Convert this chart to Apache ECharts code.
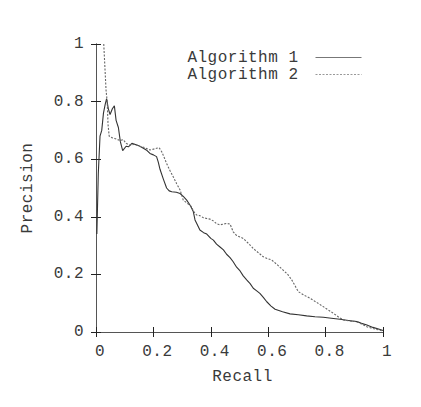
<!DOCTYPE html>
<html>
<head>
<meta charset="utf-8">
<script src="https://cdn.jsdelivr.net/npm/echarts@6/dist/echarts.min.js"></script>
<style>html,body{margin:0;padding:0;background:#fff}#c{width:421px;height:407px}#c svg text{letter-spacing:0.5px}</style>
</head>
<body>
<div id="c"></div>
<script>
var seriesNames = ['Algorithm 1', 'Algorithm 2'];
var xTicks = [0, 0.2, 0.4, 0.6, 0.8, 1];
var yTicks = [0, 0.2, 0.4, 0.6, 0.8, 1];

var algo1Recall = [0.003,0.008,0.014,0.02,0.026,0.032,0.037,0.043,0.049,0.057,0.064,0.07,0.078,0.085,0.093,0.105,0.113,0.125,0.142,0.153,0.165,0.178,0.188,0.2,0.211,0.217,0.223,0.235,0.246,0.255,0.264,0.28,0.293,0.305,0.316,0.328,0.339,0.345,0.351,0.362,0.375,0.386,0.4,0.409,0.42,0.432,0.444,0.455,0.467,0.478,0.49,0.502,0.513,0.525,0.537,0.548,0.56,0.571,0.583,0.595,0.61,0.624,0.65,0.676,0.705,0.734,0.763,0.792,0.82,0.85,0.88,0.909,0.925,0.944,0.965,0.99,1.0];
var algo1Precision = [0.34,0.55,0.68,0.70,0.76,0.79,0.81,0.775,0.755,0.775,0.785,0.735,0.71,0.66,0.63,0.645,0.643,0.655,0.649,0.645,0.638,0.63,0.62,0.615,0.609,0.59,0.565,0.53,0.5,0.49,0.487,0.485,0.481,0.47,0.458,0.44,0.418,0.389,0.377,0.354,0.345,0.34,0.325,0.319,0.305,0.295,0.285,0.27,0.258,0.244,0.225,0.212,0.195,0.181,0.168,0.152,0.143,0.134,0.12,0.105,0.09,0.079,0.07,0.063,0.06,0.056,0.053,0.051,0.048,0.044,0.04,0.036,0.03,0.024,0.016,0.009,0.005];

var algo2Recall = [0.027,0.031,0.035,0.039,0.042,0.046,0.055,0.065,0.075,0.085,0.095,0.105,0.118,0.135,0.153,0.17,0.188,0.2,0.211,0.22,0.229,0.238,0.246,0.258,0.269,0.281,0.293,0.304,0.318,0.333,0.339,0.351,0.362,0.374,0.386,0.397,0.41,0.42,0.432,0.445,0.455,0.467,0.478,0.49,0.513,0.537,0.548,0.56,0.583,0.598,0.612,0.63,0.652,0.668,0.682,0.695,0.705,0.725,0.746,0.77,0.792,0.81,0.827,0.845,0.862,0.885,0.909,0.925,0.944,0.965,0.99,1.0];
var algo2Precision = [1.0,0.92,0.84,0.80,0.72,0.68,0.675,0.672,0.668,0.665,0.668,0.655,0.649,0.652,0.645,0.64,0.632,0.635,0.638,0.64,0.626,0.605,0.585,0.56,0.539,0.515,0.493,0.458,0.447,0.435,0.42,0.406,0.404,0.397,0.394,0.392,0.385,0.376,0.372,0.375,0.377,0.375,0.348,0.335,0.325,0.302,0.29,0.28,0.261,0.255,0.25,0.235,0.215,0.2,0.181,0.158,0.14,0.128,0.117,0.102,0.088,0.076,0.065,0.052,0.042,0.038,0.036,0.028,0.018,0.012,0.006,0.003];

function pairs(xs, ys){ return xs.map(function(x,i){ return [x, ys[i]]; }); }
function fmt(v){ return String(v); }

var FONT = 'Liberation Mono';
var FS = 16;
var axisCol = '#555';
var txtCol = '#3a3a3a';

var chart = echarts.init(document.getElementById('c'), null, {renderer:'svg'});
var baseAxis = {
  type: 'value', min: 0, max: 1, interval: 0.2,
  axisLine: {show: true, lineStyle: {color: axisCol, width: 1}},
  axisTick: {show: true, inside: true, length: 5, lineStyle: {color: '#222', width: 1}},
  splitLine: {show: false}
};
chart.setOption({
  animation: false,
  backgroundColor: '#fff',
  grid: {left: 96, right: 38, top: 44, bottom: 75, containLabel: false},
  legend: {
    orient: 'vertical', right: 59, top: 49, itemGap: 0, align: 'right', padding: 0,
    itemWidth: 46, itemHeight: 16,
    data: [
      {name: seriesNames[0], lineStyle: {color: '#777', width: 1}},
      {name: seriesNames[1], lineStyle: {color: '#999', width: 1}}
    ],
    itemStyle: {opacity: 0},
    textStyle: {fontFamily: FONT, fontSize: FS, color: txtCol, lineHeight: 17, padding: [0, 12, 0, 0]}
  },
  xAxis: [
    Object.assign({}, baseAxis, {
      position: 'bottom', name: 'Recall', nameLocation: 'middle', nameGap: 37,
      nameTextStyle: {fontFamily: FONT, fontSize: FS, color: txtCol, padding: [0, 0, 0, 6]},
      axisLabel: {fontFamily: FONT, fontSize: FS, color: txtCol, margin: 12, formatter: fmt,
        customValues: xTicks, padding: [0, 0, 0, 8]}
    }),
    Object.assign({}, baseAxis, {position: 'top', axisLabel: {show: false}})
  ],
  yAxis: [
    Object.assign({}, baseAxis, {
      position: 'left', name: 'Precision', nameLocation: 'middle', nameGap: 60,
      nameTextStyle: {fontFamily: FONT, fontSize: FS, color: txtCol},
      axisLabel: {fontFamily: FONT, fontSize: FS, color: txtCol, margin: 12, formatter: fmt,
        customValues: yTicks}
    }),
    Object.assign({}, baseAxis, {position: 'right', axisLabel: {show: false}})
  ],
  series: [
    {name: seriesNames[0], type: 'line', xAxisIndex: 0, yAxisIndex: 0, showSymbol: false, symbol: 'none',
      lineStyle: {color: '#333', width: 1.1}, itemStyle: {color: '#333'},
      data: pairs(algo1Recall, algo1Precision)},
    {name: seriesNames[1], type: 'line', xAxisIndex: 0, yAxisIndex: 0, showSymbol: false, symbol: 'none',
      lineStyle: {color: '#666', width: 1.1, type: [2, 1.5]}, itemStyle: {color: '#666'},
      data: pairs(algo2Recall, algo2Precision)}
  ]
});
</script>
</body>
</html>
